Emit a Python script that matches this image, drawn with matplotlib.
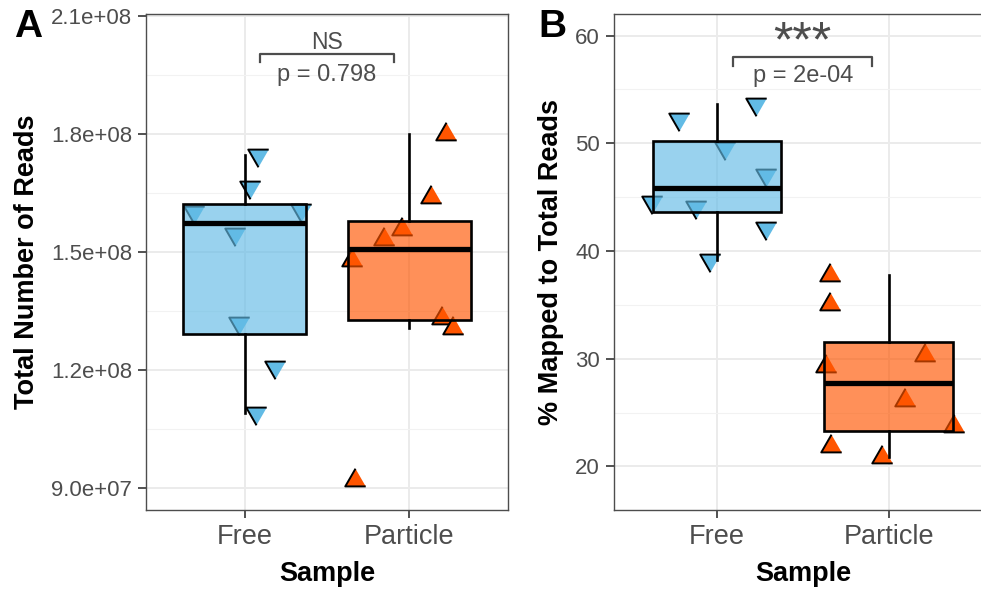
import numpy as np
import matplotlib
matplotlib.use("Agg")
import matplotlib.pyplot as plt

plt.rcParams['font.family'] = ['Liberation Sans', 'DejaVu Sans']

# groups on the x axis
samples = ["Free", "Particle"]

# total reads per library
reads_free = [1.746e8, 1.665e8, 1.600e8, 1.607e8, 1.545e8, 1.319e8, 1.207e8, 1.090e8]
reads_particle = [1.800e8, 1.639e8, 1.558e8, 1.532e8, 1.479e8, 1.332e8, 1.306e8, 0.920e8]
# jitter offsets of the points
jit_reads_free = [0.079, 0.030, -0.310, 0.340, -0.061, -0.036, 0.182, 0.067]
jit_reads_particle = [0.225, 0.134, -0.043, -0.152, -0.347, 0.201, 0.267, -0.328]

# percent of reads mapped
mapped_free = [52.23, 53.60, 49.54, 47.06, 44.58, 44.11, 42.11, 39.20]
mapped_particle = [37.80, 35.08, 30.34, 29.32, 26.16, 23.78, 21.89, 20.90]
jit_mapped_free = [-0.224, 0.225, 0.048, 0.287, -0.379, -0.122, 0.287, -0.039]
jit_mapped_particle = [-0.340, -0.340, 0.213, -0.365, 0.097, 0.379, -0.334, -0.038]

reads_ticks = [9.0e7, 1.2e8, 1.5e8, 1.8e8, 2.1e8]
reads_ticklabels = ["9.0e+07", "1.2e+08", "1.5e+08", "1.8e+08", "2.1e+08"]
mapped_ticks = [20, 30, 40, 50, 60]

pval_reads = "p = 0.798"
sig_reads = "NS"
pval_mapped = "p = 2e-04"
sig_mapped = "***"

col_free = "#62BBE5"
col_particle = "#FF5500"
txt_grey = "#4D4D4D"
down_tri = [(0, -1), (-0.866, 0.5), (0.866, 0.5)]
up_tri = [(0, 1), (-0.866, -0.5), (0.866, -0.5)]


def panel(ax, free, particle, jf, jp, ylim, ticks, ticklabels, ylabel):
    ax.set_xlim(0.4, 2.6)
    ax.set_ylim(*ylim)
    # points underneath the semi-transparent boxes
    ax.plot(1 + np.array(jf), free, ls="none", marker=down_tri, ms=17,
            mfc=col_free, mec="black", mew=1.4, zorder=2)
    ax.plot(2 + np.array(jp), particle, ls="none", marker=up_tri, ms=17,
            mfc=col_particle, mec="black", mew=1.4, zorder=2)
    bp = ax.boxplot([free, particle], positions=[1, 2], widths=0.75,
                    patch_artist=True, showfliers=False, showcaps=False,
                    boxprops=dict(linewidth=1.9, edgecolor="black"),
                    whiskerprops=dict(linewidth=1.9, color="black"),
                    medianprops=dict(linewidth=3.8, color="black"),
                    zorder=3)
    for patch, c in zip(bp["boxes"], [col_free, col_particle]):
        patch.set_facecolor(matplotlib.colors.to_rgba(c, 0.65))
    ax.set_xticks([1, 2])
    ax.set_xticklabels(samples, fontsize=19.5, color=txt_grey)
    ax.set_yticks(ticks)
    ax.set_yticklabels(ticklabels, fontsize=16, color=txt_grey)
    minor = [(a + b) / 2 for a, b in zip(ticks[:-1], ticks[1:])]
    ax.set_yticks(minor, minor=True)
    ax.tick_params(axis="y", which="minor", length=0)
    ax.tick_params(which="major", length=6, width=1.2, color="#333333", pad=4)
    ax.grid(True, which="major", color="#EBEBEB", lw=1.4, zorder=0)
    ax.grid(True, which="minor", axis="y", color="#F2F2F2", lw=0.8, zorder=0)
    ax.set_axisbelow(True)
    for s in ax.spines.values():
        s.set_color("#4D4D4D")
        s.set_linewidth(1.0)
    ax.set_xlabel("Sample", fontsize=19.5, fontweight="bold", labelpad=8)
    ax.set_ylabel(ylabel, fontsize=19.5, fontweight="bold", labelpad=8)


def bracket(ax, x1, x2, ytop, ylow, sig, ysig, sigsize, pval, yp):
    ax.plot([x1, x1, x2, x2], [ylow, ytop, ytop, ylow], color=txt_grey,
            lw=1.6, zorder=4)
    ax.text((x1 + x2) / 2, ysig, sig, ha="center", va="center",
            fontsize=sigsize, color=txt_grey)
    ax.text((x1 + x2) / 2, yp, pval, ha="center", va="center",
            fontsize=17, color=txt_grey)


fig = plt.figure(figsize=(9.81, 5.9), dpi=100)
axA = fig.add_axes([146 / 981, 80 / 590, 362 / 981, 496 / 590])
axB = fig.add_axes([614 / 981, 80 / 590, 377.7 / 981, 496 / 590])

panel(axA, reads_free, reads_particle, jit_reads_free, jit_reads_particle,
      (8.433e7, 2.104e8), reads_ticks, reads_ticklabels, "Total Number of Reads")
panel(axB, mapped_free, mapped_particle, jit_mapped_free, jit_mapped_particle,
      (15.95, 62.0), mapped_ticks, [str(t) for t in mapped_ticks],
      "% Mapped to Total Reads")

bracket(axA, 1.093, 1.908, 2.003e8, 1.982e8, sig_reads, 2.031e8, 16.5,
        pval_reads, 1.950e8)
bracket(axB, 1.095, 1.904, 57.99, 57.15, sig_mapped, 59.3, 36,
        pval_mapped, 56.25)

fig.text(28 / 981, 1 - 27 / 590, "A", fontsize=28, fontweight="bold",
         ha="center", va="center")
fig.text(552 / 981, 1 - 27 / 590, "B", fontsize=28, fontweight="bold",
         ha="center", va="center")

fig.savefig("out.png", dpi=100)
